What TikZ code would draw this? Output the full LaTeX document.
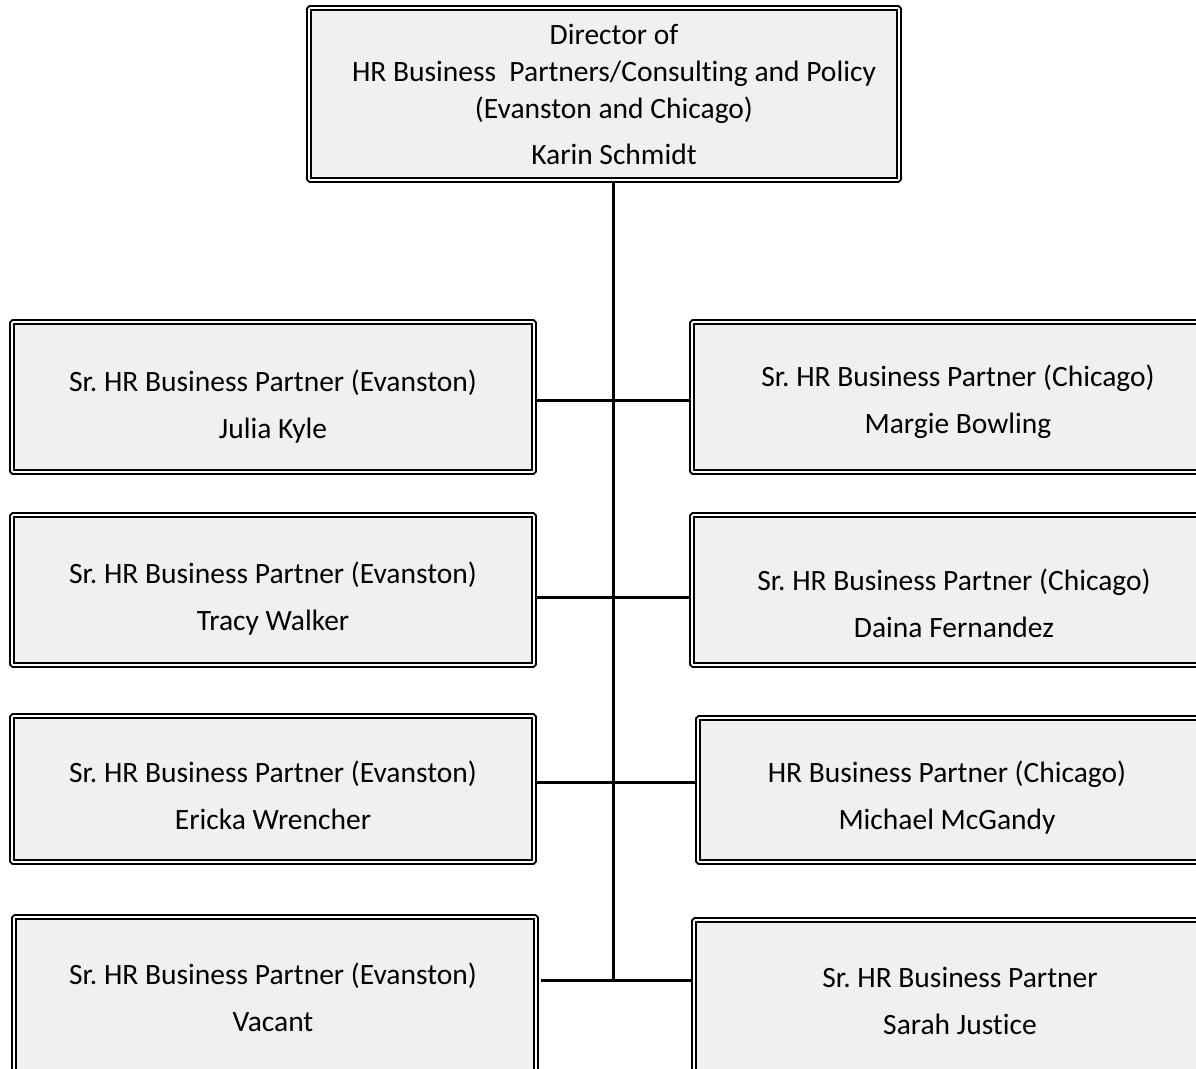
\documentclass[tikz,border=0pt]{standalone}
\usepackage{fontspec}
\setmainfont{Carlito}[RawFeature=-liga]
\definecolor{boxfill}{HTML}{F0F0F0}
\frenchspacing
\begin{document}
\begin{tikzpicture}[x=1pt,y=-1pt,
  box/.style={draw=black, line width=2pt, double=white, double distance=1.6pt,
    fill=boxfill, rounded corners=1pt, inner sep=0pt, minimum width=#1},
  box/.default=522pt,
  txt/.style={font=\fontsize{29.5}{47}\selectfont, align=center, inner sep=0pt, text=black},
  conn/.style={draw=black, line width=3pt}]
\useasboundingbox (0,0) rectangle (1196,1068);
\fill[white] (0,0) rectangle (1196,1068);
% top
\node[box=590pt, minimum height=172pt] (top) at (604,94) {};
\node[txt] (t1) at (614,34) {Director of};
\node[txt] (t2) at (614,74) {HR Business\ \ Partners/Consulting and Policy};
\node[txt] (t3) at (614,110) {(Evanston and Chicago)};
\node[txt] (t4) at (614,154) {Karin Schmidt};
% left column
\node[box, minimum height=150pt] (L1) at (273,397) {};
\node[txt] (L1t) at (273,407) {Sr. HR Business Partner (Evanston)\\Julia Kyle};
\node[box, minimum height=150pt] (L2) at (273,590) {};
\node[txt] (L2t) at (273,599) {Sr. HR Business Partner (Evanston)\\Tracy Walker};
\node[box, minimum height=146pt] (L3) at (273,789) {};
\node[txt] (L3t) at (273,795) {Sr. HR Business Partner (Evanston)\\Ericka Wrencher};
\node[box, minimum height=190pt] (L4) at (275,1012) {};
\node[txt] (L4t) at (273,997) {Sr. HR Business Partner (Evanston)\\Vacant};
% right column
\node[box=532pt, minimum height=150pt] (R1) at (958,397) {};
\node[txt] (R1t) at (958,402) {Sr. HR Business Partner (Chicago)\\Margie Bowling};
\node[box=532pt, minimum height=150pt] (R2) at (958,590) {};
\node[txt] (R2t) at (954,603) {Sr. HR Business Partner (Chicago)\\Daina Fernandez};
\node[box=520pt, minimum height=144pt] (R3) at (958,790) {};
\node[txt] (R3t) at (947,798) {HR Business Partner (Chicago)\\Michael McGandy};
\node[box=530pt, minimum height=190pt] (R4) at (959,1015) {};
\node[txt] (R4t) at (960,1001) {Sr. HR Business Partner\\Sarah Justice};
% connectors
\coordinate (j1) at (613,400);
\coordinate (j2) at (613,597);
\coordinate (j3) at (613,782);
\coordinate (j4) at (613,980);
\draw[conn] (j4 |- top.south) -- (j4);
\draw[conn] (L1.east |- j1) -- (R1.west |- j1);
\draw[conn] (L2.east |- j2) -- (R2.west |- j2);
\draw[conn] (L3.east |- j3) -- (R3.west |- j3);
\draw[conn] ([xshift=4pt]L4.east |- j4) -- (R4.west |- j4);
\end{tikzpicture}
\end{document}
